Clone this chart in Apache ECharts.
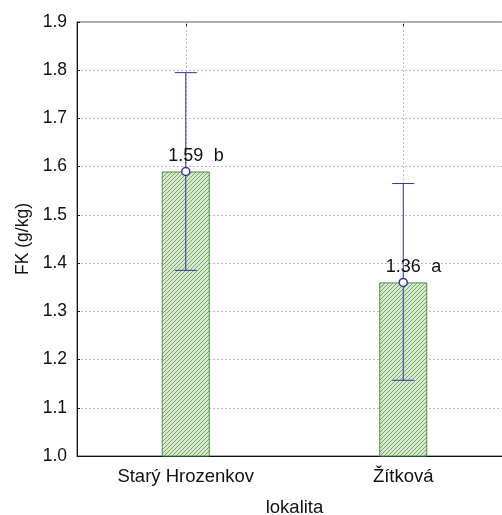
<!DOCTYPE html>
<html>
<head>
<meta charset="utf-8">
<script src="https://cdn.jsdelivr.net/npm/echarts@6/dist/echarts.min.js"></script>
<style>
html,body{margin:0;padding:0;background:#fff;}
#chart{width:502px;height:515px;}
</style>
</head>
<body>
<div id="chart"></div>
<script>
// ---- data ----
var categories = ['Starý Hrozenkov', 'Žítková'];
var means = [1.59, 1.36];
var upperCI = [1.795, 1.565];
var lowerCI = [1.385, 1.157];
var groupLetters = ['b', 'a'];
var yTicks = [1.0, 1.1, 1.2, 1.3, 1.4, 1.5, 1.6, 1.7, 1.8, 1.9];

// hatch pattern
function makeHatch() {
  var c = document.createElement('canvas');
  c.width = 4; c.height = 4;
  var g = c.getContext('2d');
  g.fillStyle = '#d6e9cf';
  g.fillRect(0, 0, 4, 4);
  g.strokeStyle = '#74aa64';
  g.lineWidth = 1;
  g.beginPath();
  g.moveTo(-1, 5); g.lineTo(5, -1);
  g.moveTo(-1, 1); g.lineTo(1, -1);
  g.moveTo(3, 5); g.lineTo(5, 3);
  g.stroke();
  return c;
}

var FONT = 'Liberation Sans, Arial, sans-serif';
var errColor = '#33339e';

var chart = echarts.init(document.getElementById('chart'), null, {renderer: 'canvas'});
var option = {
  animation: false,
  backgroundColor: '#ffffff',
  grid: {left: 77, width: 435, top: 22, height: 434, outerBoundsMode: 'none', containLabel: false,
    show: true, borderColor: '#555', borderWidth: 1, backgroundColor: 'transparent'},
  xAxis: [{
    type: 'category',
    data: categories,
    position: 'bottom',
    name: 'lokalita',
    nameLocation: 'middle',
    nameGap: 42,
    nameTextStyle: {fontFamily: FONT, fontSize: 18.5, color: '#111'},
    axisLine: {show: true, lineStyle: {color: '#111', width: 1}},
    axisTick: {show: true, inside: true, alignWithLabel: true, length: 4, lineStyle: {color: '#111'}},
    axisLabel: {fontFamily: FONT, fontSize: 18.5, color: '#111', margin: 11},
    splitLine: {show: false}
  }, {
    type: 'category',
    data: categories,
    position: 'top',
    axisLine: {show: false},
    axisTick: {show: true, inside: true, alignWithLabel: true, length: 4, lineStyle: {color: '#111'}},
    axisLabel: {show: false},
    splitLine: {show: false}
  }],
  yAxis: {
    type: 'value',
    min: 1.0,
    max: 1.9,
    interval: 0.1,
    name: 'FK (g/kg)',
    nameLocation: 'middle',
    nameGap: 43,
    nameRotate: 90,
    nameTextStyle: {fontFamily: FONT, fontSize: 17.5, color: '#111'},
    axisLine: {show: true, lineStyle: {color: '#111', width: 1}},
    axisTick: {show: true, inside: true, length: 3, lineStyle: {color: '#111'}},
    axisLabel: {fontFamily: FONT, fontSize: 17.5, color: '#111', margin: 10,
      formatter: function (v) { return v.toFixed(1); }},
    splitLine: {show: true, lineStyle: {color: '#bbbbbb', type: [2, 2], width: 1}}
  },
  series: [{
    type: 'bar',
    data: means,
    barWidth: 48,
    itemStyle: {
      color: {image: makeHatch(), repeat: 'repeat'},
      borderColor: '#4f8f42',
      borderWidth: 1
    },
    markLine: {
      silent: true,
      symbol: ['none', 'none'],
      label: {show: false},
      lineStyle: {color: '#bbbbbb', type: [2, 2], width: 1},
      data: categories.map(function (c) { return {xAxis: c}; }),
      z: 1
    },
    z: 2
  }, {
    type: 'custom',
    z: 5,
    data: means.map(function (m, i) { return [i, m, lowerCI[i], upperCI[i]]; }),
    renderItem: function (params, api) {
      var x = api.value(0);
      var pm = api.coord([x, api.value(1)]);
      var pl = api.coord([x, api.value(2)]);
      var pu = api.coord([x, api.value(3)]);
      var cap = 11;
      var ls = {stroke: errColor, lineWidth: 1};
      return {
        type: 'group',
        children: [
          {type: 'line', shape: {x1: pm[0], y1: pl[1], x2: pm[0], y2: pu[1]}, style: ls},
          {type: 'line', shape: {x1: pm[0] - cap, y1: pu[1], x2: pm[0] + cap, y2: pu[1]}, style: ls},
          {type: 'line', shape: {x1: pm[0] - cap, y1: pl[1], x2: pm[0] + cap, y2: pl[1]}, style: ls},
          {type: 'circle', shape: {cx: pm[0], cy: pm[1], r: 4}, style: {fill: '#fff', stroke: errColor, lineWidth: 1.5}},
          {type: 'text', style: {text: api.value(1).toFixed(2), x: pm[0], y: pm[1] - 6, align: 'center', verticalAlign: 'bottom', font: '18px ' + FONT, fill: '#111'}},
          {type: 'text', style: {text: String(groupLetters[params.dataIndex]), x: pm[0] + 33, y: pm[1] - 6, align: 'center', verticalAlign: 'bottom', font: '18px ' + FONT, fill: '#111'}}
        ]
      };
    }
  }]
};
chart.setOption(option);
</script>
</body>
</html>
